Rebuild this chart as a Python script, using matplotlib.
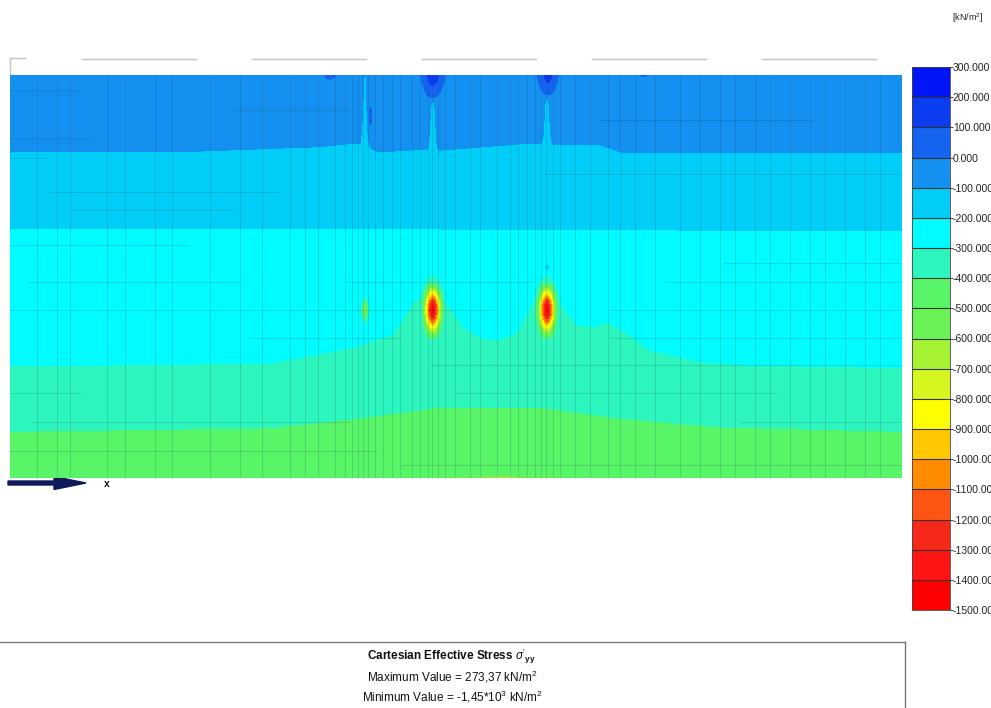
import numpy as np
import matplotlib
matplotlib.use("Agg")
import matplotlib.pyplot as plt
from matplotlib.colors import ListedColormap, BoundaryNorm

plt.rcParams['font.family'] = ['Liberation Sans', 'DejaVu Sans']
plt.rcParams['mathtext.fontset'] = 'custom'
plt.rcParams['mathtext.rm'] = 'Liberation Sans'
plt.rcParams['mathtext.it'] = 'Liberation Sans:italic'
plt.rcParams['mathtext.bf'] = 'Liberation Sans:bold'

# model extent [m]
model_width = 100.0
model_depth = 45.0

# stress levels [kN/m2] and band colours (lowest band first)
levels = np.arange(-1500, 301, 100)
band_colors = [
    (255, 0, 0), (255, 20, 20), (245, 40, 25), (255, 85, 20), (255, 140, 0),
    (255, 200, 0), (255, 255, 0), (215, 245, 30), (165, 242, 50), (105, 243, 85),
    (88, 245, 105), (45, 245, 190), (0, 252, 255), (0, 205, 248), (20, 145, 240),
    (20, 100, 240), (10, 60, 240), (0, 20, 245),
]

# stress at the surface and at the base of the model
top_value = -20.0
bottom_value = -470.0

# depth of the -100 contour
c100_x = [0, 21.3, 34.8, 38.7, 41.5, 46.0, 48.2, 58.3, 61.7, 66.1, 68.9, 100]
c100_y = [-8.6, -8.5, -8.0, -7.6, -8.6, -8.3, -8.4, -7.6, -7.8, -7.8, -8.7, -8.7]
# depth of the -200 contour
c200_x = [0, 50, 100]
c200_y = [-17.1, -17.2, -17.4]
# depth of the -300 contour
c300_x = [0, 29.1, 38.1, 41.5, 42.9, 45.2, 47.4, 49.3, 50.8, 53.0, 54.6, 56.8,
          58.6, 60.2, 62.0, 63.6, 65.4, 67.0, 68.7, 71.7, 77.4, 82.5, 100]
c300_y = [-32.5, -32.2, -30.5, -29.4, -29.0, -25.4, -24.0, -25.9, -28.1, -29.4, -29.6, -28.8,
          -25.4, -24.0, -25.9, -27.9, -28.1, -27.6, -28.5, -30.7, -32.0, -32.4, -32.7]
# depth of the -400 contour
c400_x = [0, 29.1, 38.5, 48.2, 59.4, 68.0, 79.4, 100]
c400_y = [-39.8, -39.4, -38.4, -37.1, -37.1, -38.3, -39.3, -39.8]

# plates (walls / piles): x, top, bottom, stress change, half width
plate_x = [39.8, 47.4, 60.2]
plate_top = [0.0, -3.1, -2.8]
plate_bot = [-8.6, -8.6, -8.6]
plate_amp = [-90.0, -90.0, -90.0]
plate_w = [0.3, 0.3, 0.3]

# local stress peaks: x, y, stress change, spread x, spread y
spot_x = [47.4, 60.3, 35.9, 71.0, 40.4, 47.4, 60.2, 39.8, 47.4, 60.2, 60.2, 47.4, 60.2, 55.0]
spot_y = [0.0, 0.0, 0.0, 0.0, -4.8, -26.2, -26.2, -26.2, -23.2, -21.5, -23.2, -29.6, -29.6, -45.0]
spot_amp = [170, 150, 60, 40, 90, -1140, -1140, -380, 90, 90, 90, 70, 70, -170]
spot_sx = [1.0, 0.9, 0.6, 0.4, 0.3, 0.9, 0.9, 0.35, 0.3, 0.3, 0.3, 0.3, 0.3, 5.5]
spot_sy = [2.3, 2.1, 0.5, 0.3, 1.8, 2.35, 2.35, 1.1, 0.4, 0.4, 0.4, 0.4, 0.4, 0.35]

# finite element mesh edges
mesh_vx = [3.0, 5.3, 6.7, 10.9, 12.9, 16.3, 18.2, 22.4, 25.8, 28.3, 31.4, 33.1, 34.5, 36.4,
           37.6, 38.3, 39.0, 39.6, 40.1, 40.9, 41.8, 42.8, 43.7, 45.1, 46.0, 46.9, 47.3,
           48.0, 48.8, 49.9, 51.6, 52.7, 54.6, 56.1, 57.0, 58.0, 58.9, 59.5, 60.1, 60.9,
           61.7, 63.3, 65.0, 67.0, 68.4, 70.1, 72.3, 75.1, 77.4, 79.6, 81.3, 83.5, 85.2,
           87.4, 89.7, 91.4, 93.6, 95.9, 97.5]
mesh_h = [(-1.7, 0, 8), (-3.9, 25, 38), (-7.0, 0, 9), (-9.3, 0, 4), (-13.1, 4.5, 30),
          (-15.1, 7, 25), (-19.0, 0, 20), (-23.1, 2, 26), (-23.1, 37.8, 58.6), (-23.1, 73.4, 100),
          (-26.2, 0, 54.1), (-26.2, 67.3, 100), (-29.4, 26.9, 43.7), (-29.4, 67.3, 100),
          (-32.4, 47.1, 100), (-35.5, 0, 8), (-35.5, 50, 86), (-38.8, 2.5, 38), (-38.8, 82, 100),
          (-42.0, 0, 41), (-43.5, 44, 100), (-11.0, 60, 100), (-5.0, 66, 90), (-21.0, 80, 100)]

# ---- stress field ----
gx = np.linspace(0, model_width, 1100)
gy = np.linspace(-model_depth, 0, 650)
X, Y = np.meshgrid(gx, gy)

d100 = np.interp(gx, c100_x, c100_y)
d200 = np.interp(gx, c200_x, c200_y)
d300 = np.interp(gx, c300_x, c300_y)
d400 = np.interp(gx, c400_x, c400_y)

Z = np.empty_like(X)
for j in range(len(gx)):
    depths = [0, -d100[j], -d200[j], -d300[j], -d400[j], model_depth]
    vals = [top_value, -100, -200, -300, -400, bottom_value]
    Z[:, j] = np.interp(-gy, depths, vals)

for xp, yt, yb, a, w in zip(plate_x, plate_top, plate_bot, plate_amp, plate_w):
    across = np.exp(-((X - xp) / w) ** 2)
    along = np.clip((yt - Y) / 0.4 + 1, 0, 1) * np.clip((Y - yb) / 0.4, 0, 1)
    Z += a * across * along

for xs, ys, a, sx, sy in zip(spot_x, spot_y, spot_amp, spot_sx, spot_sy):
    g = np.exp(-(((X - xs) / sx) ** 2 + ((Y - ys) / sy) ** 2))
    Z += a * np.clip((g - 0.05) / 0.95, 0, None)

Z = np.clip(Z, -1499, 299)

cmap = ListedColormap([tuple(c / 255 for c in rgb) for rgb in band_colors])
norm = BoundaryNorm(levels, cmap.N)

# ---- figure ----
fig = plt.figure(figsize=(9.91, 7.08), dpi=100)

deco = fig.add_axes([0, 0, 1, 1])
deco.set_xlim(0, 991)
deco.set_ylim(708, 0)
deco.axis('off')

ax = fig.add_axes([10 / 991, 230 / 708, 892 / 991, 403 / 708])
cs = ax.contourf(X, Y, Z, levels=levels, cmap=cmap, norm=norm)
for x in mesh_vx:
    ax.plot([x, x], [-model_depth, 0], color='#1c3a44', alpha=0.2, lw=0.6)
for y, x0, x1 in mesh_h:
    ax.plot([x0, x1], [y, y], color='#1c3a44', alpha=0.2, lw=0.6)
ax.set_xlim(0, model_width)
ax.set_ylim(-model_depth, 0)
ax.set_xticks([])
ax.set_yticks([])
for s in ax.spines.values():
    s.set_visible(False)
ax.plot([0, model_width], [-model_depth, -model_depth], color='#7a9a8a', lw=0.8)

# colour legend
cax = fig.add_axes([912 / 991, 98 / 708, 38 / 991, 543 / 708])
cb = fig.colorbar(cs, cax=cax, ticks=levels, drawedges=True)
cb.dividers.set_color('#333333')
cb.dividers.set_linewidth(0.8)
cb.outline.set_edgecolor('#444444')
cb.outline.set_linewidth(0.6)
cb.ax.set_yticklabels(['%.3f' % v for v in levels])
cb.ax.tick_params(length=2, width=0.6, pad=0, labelsize=7.5, colors='#222222')
deco.text(968, 18, '[kN/m$^2$]', ha='center', va='center', fontsize=6.5, color='#222222')

# geometry ruler at the top
deco.plot([10, 10], [75, 58], color='#c4c4c4', lw=1)
deco.plot([10, 25], [58, 58], color='#c4c4c4', lw=1)
for x0 in [82, 252, 422, 592, 762]:
    deco.plot([x0, x0 + 114], [59, 59], color='#c4c4c4', lw=1)

# x axis arrow
deco.arrow(8, 483, 78, 0, width=4, head_width=13, head_length=32,
           length_includes_head=True, color='#0f1a5c')
deco.text(107, 484, 'x', ha='center', va='center', fontsize=7.5, weight='bold', color='#111111')

# title block
deco.plot([0, 905], [642, 642], color='#777777', lw=1)
deco.plot([905, 905], [642, 708], color='#777777', lw=1)
deco.text(452, 656, r"Cartesian Effective Stress $\sigma'_{\mathbf{yy}}$", ha='center', va='center',
          fontsize=8.5, weight='bold', color='#111111')
deco.text(452, 677, r'Maximum Value = 273,37 kN/m$^2$', ha='center', va='center',
          fontsize=8.5, color='#111111')
deco.text(452, 697, r'Minimum Value = -1,45*10$^3$ kN/m$^2$', ha='center', va='center',
          fontsize=8.5, color='#111111')

fig.savefig('out.png', dpi=100)
